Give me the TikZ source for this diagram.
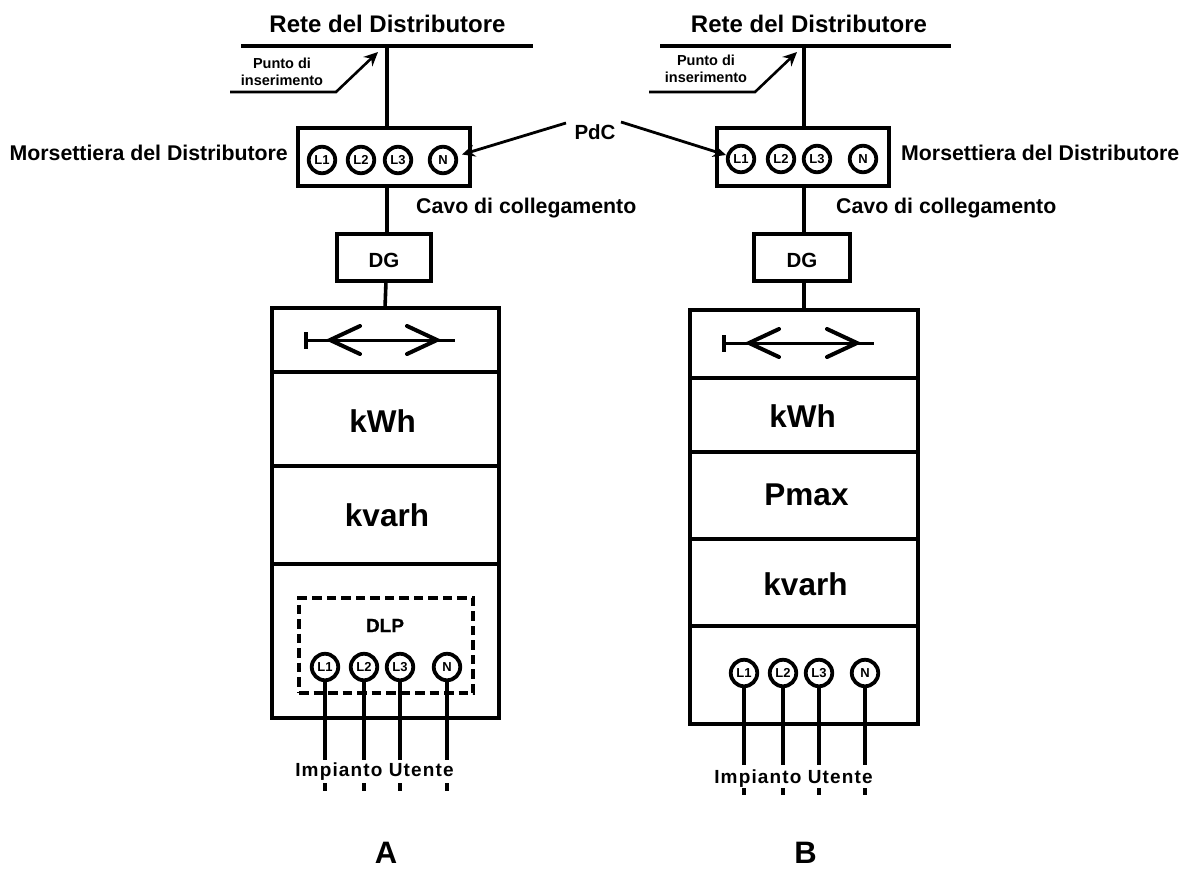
\documentclass[tikz,border=0pt]{standalone}
\usepackage{fontspec}
\usetikzlibrary{arrows.meta}
\setmainfont{Liberation Sans}
\newfontfamily\impfont[LetterSpace=6]{Liberation Sans}
\newfontfamily\dlpfont[FakeBold=0.8]{Liberation Sans Bold}
\begin{document}
\begin{tikzpicture}[x=1pt,y=-1pt,
  thick line/.style={line width=3.6pt,draw=black},
  boxed/.style={draw=black,line width=3.6pt,inner sep=0pt},
  term/.style={circle,line width=3.8pt,draw=black,fill=white,minimum size=26.5pt,inner sep=0pt,font=\bfseries\fontsize{13}{13}\selectfont},
  title/.style={font=\bfseries\fontsize{24}{24}\selectfont,inner sep=0pt,anchor=base},
  big/.style={font=\bfseries\fontsize{21.3}{21.3}\selectfont,inner sep=0pt,anchor=base},
  smalllab/.style={font=\bfseries\fontsize{14.5}{17}\selectfont,inner sep=0pt,align=center,anchor=base},
  meter/.style={font=\bfseries\fontsize{31.5}{31.5}\selectfont,inner sep=0pt,anchor=base},
  imp/.style={font=\impfont\bfseries\fontsize{19}{19}\selectfont,inner sep=0pt,anchor=base},
  panel/.style={font=\bfseries\fontsize{31}{31}\selectfont,inner sep=0pt,anchor=base},
  chev/.style={line width=4pt,line cap=round,line join=miter},
  leader/.style={line width=2.6pt,draw=black,-{Stealth[length=14pt,width=13pt]}},
  pdcarrow/.style={line width=2.8pt,draw=black,-{Stealth[length=13pt,width=12pt]}},
]
\useasboundingbox (0,0) rectangle (1182,868);

% ---------- A ----------
\coordinate (aBusL) at (241,46);
\coordinate (aBusR) at (533,46);
\coordinate (aBusC) at (387,46);
\draw[thick line] (aBusL) -- (aBusR);
\node[title] (aRete) at (387.5,32) {Rete del Distributore};
\node[boxed,minimum width=172pt,minimum height=58pt] (aMors) at (384,157) {};
\draw[thick line] (aBusC) -- (aBusC |- aMors.north);
\node[term] (aT1) at (322,160) {L1};
\node[term] (aT2) at (361,160) {L2};
\node[term] (aT3) at (398,160) {L3};
\node[term] (aTN) at (443,160) {N};
\node[big,anchor=base east] (aMl) at (288,160) {Morsettiera del Distributore};
\node[big,anchor=base west] (aCavo) at (416,213) {Cavo di collegamento};
\node[boxed,minimum width=94pt,minimum height=47pt] (aDG) at (384,257.5) {};
\node[big,font=\bfseries\fontsize{20.5}{20.5}\selectfont] (aDGt) at (384,267) {DG};
\coordinate (aMt) at (385,308);
\coordinate (aDb) at (386,281);
\draw[thick line] (387,186) -- (387,234);
\draw[thick line] (aDb) -- (aMt);
% meter box
\coordinate (aTL) at (272,308);
\coordinate (aBR) at (499,718);
\draw[thick line] (aTL) rectangle (aBR);
\draw[thick line] (272,372) -- (499,372);
\draw[thick line] (272,466) -- (499,466);
\draw[thick line] (272,564) -- (499,564);
\draw[line width=3pt] (306,340) -- (455,340);
\draw[thick line] (306,332) -- (306,349);
\draw[chev] (360,326) -- (330,340) -- (360,354);
\draw[chev] (407,326) -- (437,340) -- (407,354);
\node[meter] (aK) at (382.5,432) {kWh};
\node[meter] (aKv) at (387,526) {kvarh};
\node[boxed,line width=3.8pt,dash pattern=on 9.5pt off 5pt,minimum width=174pt,minimum height=95pt] (aDash) at (386,645.5) {};
\node[font=\dlpfont\fontsize{19}{19}\selectfont,inner sep=0pt,anchor=base] (aDLP) at (385,632) {DLP};
\node[term] (aU1) at (325,667) {L1};
\node[term] (aU2) at (364,667) {L2};
\node[term] (aU3) at (400,667) {L3};
\node[term] (aUN) at (447,667) {N};
\foreach \n/\x in {1/325,2/364,3/400,N/447}{
  \coordinate (aE\n) at (\x,760);
}
\draw[thick line] (aU1) -- (aE1);
\draw[thick line] (aU2) -- (aE2);
\draw[thick line] (aU3) -- (aE3);
\draw[thick line] (aUN) -- (aEN);
\foreach \x in {325,364,400,447}{
  \draw[thick line] (\x,783) -- (\x,791);
}
\node[imp] (aImp) at (374.5,776) {Impianto Utente};
\node[panel] (aA) at (386,863) {A};

% ---------- B ----------
\coordinate (bBusL) at (660,46);
\coordinate (bBusR) at (951,46);
\coordinate (bBusC) at (804,46);
\draw[thick line] (bBusL) -- (bBusR);
\node[title] (bRete) at (809,32) {Rete del Distributore};
\node[boxed,minimum width=172pt,minimum height=58pt] (bMors) at (803,157) {};
\draw[thick line] (bBusC) -- (bBusC |- bMors.north);
\node[term] (bT1) at (741,159) {L1};
\node[term] (bT2) at (781,159) {L2};
\node[term] (bT3) at (817,159) {L3};
\node[term] (bTN) at (863,159) {N};
\node[big,anchor=base west] (bMl) at (901,160) {Morsettiera del Distributore};
\node[big,anchor=base west] (bCavo) at (836,213) {Cavo di collegamento};
\node[boxed,minimum width=96pt,minimum height=47pt] (bDG) at (802,257.5) {};
\node[big,font=\bfseries\fontsize{20.5}{20.5}\selectfont] (bDGt) at (802,267) {DG};
\draw[thick line] (804,186) -- (804,234);
\coordinate (bDb) at (804,281);
\coordinate (bMt) at (804,310);
\draw[thick line] (bDb) -- (bMt);
\coordinate (bTL) at (690,310);
\coordinate (bBR) at (918,724);
\draw[thick line] (bTL) rectangle (bBR);
\draw[thick line] (690,378) -- (918,378);
\draw[thick line] (690,452) -- (918,452);
\draw[thick line] (690,539) -- (918,539);
\draw[thick line] (690,626) -- (918,626);
\draw[line width=3pt] (724,343) -- (874,343);
\draw[thick line] (724,335) -- (724,352);
\draw[chev] (779,329) -- (749,343) -- (779,357);
\draw[chev] (827,329) -- (857,343) -- (827,357);
\node[meter] (bK) at (802.5,427) {kWh};
\node[meter] (bP) at (806.5,505) {Pmax};
\node[meter] (bKv) at (805.5,595) {kvarh};
\node[term] (bU1) at (744,673) {L1};
\node[term] (bU2) at (783,673) {L2};
\node[term] (bU3) at (819,673) {L3};
\node[term] (bUN) at (865,673) {N};
\foreach \n/\x in {1/744,2/783,3/819,N/865}{
  \coordinate (bE\n) at (\x,765);
}
\draw[thick line] (bU1) -- (bE1);
\draw[thick line] (bU2) -- (bE2);
\draw[thick line] (bU3) -- (bE3);
\draw[thick line] (bUN) -- (bEN);
\foreach \x in {744,783,819,865}{
  \draw[thick line] (\x,788) -- (\x,795);
}
\node[imp] (bImp) at (793.5,783) {Impianto Utente};
\node[panel] (bB) at (805.5,863) {B};

% ---------- Punto di inserimento ----------
\node[smalllab] (aP) at (282,85) {Punto di\\inserimento};
\node[smalllab] (bP2) at (706,82) {Punto di\\inserimento};
\coordinate (aL0) at (230,92);
\coordinate (aL1) at (336,92);
\coordinate (aL2) at (378,52);
\coordinate (bL0) at (649,92);
\coordinate (bL1) at (755,92);
\coordinate (bL2) at (797,52);
\draw[leader] (aL0) -- (aL1) -- (aL2);
\draw[leader] (bL0) -- (bL1) -- (bL2);

% ---------- PdC ----------
\node[big,font=\bfseries\fontsize{20.5}{20.5}\selectfont] (pdc) at (595,139) {PdC};
\coordinate (pdcL) at (566,123);
\coordinate (pdcR) at (621,122);
\coordinate (aTip) at (462,154.5);
\coordinate (bTip) at (726,155);
\draw[pdcarrow] (pdcL) -- (aTip);
\draw[pdcarrow] (pdcR) -- (bTip);
\end{tikzpicture}
\end{document}
